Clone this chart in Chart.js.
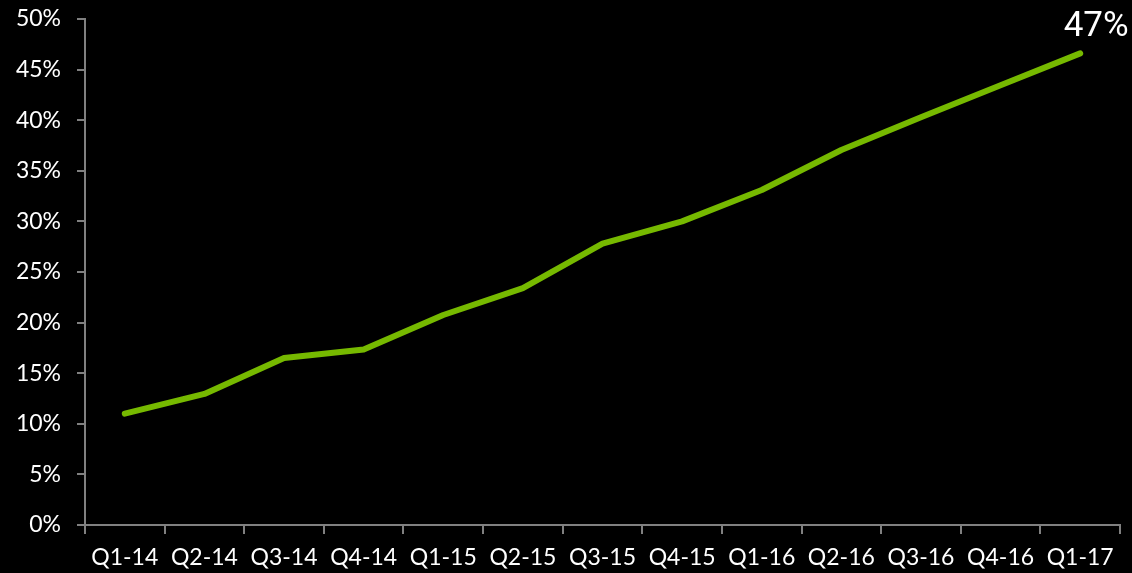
<!DOCTYPE html>
<html>
<head>
<meta charset="utf-8">
<script src="https://cdn.jsdelivr.net/npm/chart.js@4.4.1/dist/chart.umd.min.js"></script>
<style>
html,body{margin:0;padding:0;background:#000;}
#wrap{width:1132px;height:573px;position:relative;}
</style>
</head>
<body>
<div id="wrap"><canvas id="c" width="1132" height="573"></canvas></div>
<script>
const categories = ["Q1-14","Q2-14","Q3-14","Q4-14","Q1-15","Q2-15","Q3-15","Q4-15","Q1-16","Q2-16","Q3-16","Q4-16","Q1-17"];
const shareValues = [11.0, 12.95, 16.5, 17.35, 20.75, 23.4, 27.8, 30.0, 33.1, 37.05, 40.3, 43.45, 46.6];
const yTickStep = 5;
const yMin = 0;
const yMax = 50;
const endLabel = "47%";

const endLabelPlugin = {
  id: 'endLabel',
  afterDatasetsDraw(chart) {
    const meta = chart.getDatasetMeta(0);
    const last = meta.data[meta.data.length - 1];
    const ctx = chart.ctx;
    ctx.save();
    ctx.fillStyle = '#ffffff';
    ctx.font = '35px Roboto';
    ctx.textAlign = 'center';
    ctx.textBaseline = 'alphabetic';
    ctx.fillText(endLabel, last.x + 16, last.y - 17);
    ctx.restore();
  }
};

new Chart(document.getElementById('c'), {
  type: 'line',
  data: {
    labels: categories,
    datasets: [{
      data: shareValues,
      borderColor: '#76b900',
      borderWidth: 6,
      pointRadius: 0,
      tension: 0,
      borderCapStyle: 'round',
      borderJoinStyle: 'round',
      fill: false
    }]
  },
  options: {
    responsive: false,
    animation: false,
    layout: { padding: { top: 19, right: 12, left: 0, bottom: 0 } },
    plugins: { legend: { display: false }, tooltip: { enabled: false } },
    scales: {
      x: {
        offset: true,
        grid: { offset: true, drawOnChartArea: false, drawTicks: true, tickLength: 9, color: '#808080', lineWidth: 2 },
        border: { display: true, color: '#808080', width: 2 },
        ticks: { color: '#ffffff', font: { family: 'Lato', size: 23 }, padding: 10, maxRotation: 0, autoSkip: false },
        afterFit(s) { s.height = 48; s.paddingLeft = 0; s.paddingRight = 0; }
      },
      y: {
        min: yMin, max: yMax,
        grid: { drawOnChartArea: false, drawTicks: true, tickLength: 8, color: '#808080', lineWidth: 2 },
        border: { display: true, color: '#808080', width: 2 },
        ticks: { stepSize: yTickStep, color: '#ffffff', font: { family: 'Lato', size: 23 }, padding: 16,
          callback: v => v + '%' },
        afterFit(s) { s.width = 85; s.paddingTop = 0; s.paddingBottom = 0; }
      }
    }
  },
  plugins: [endLabelPlugin]
});
</script>
</body>
</html>
